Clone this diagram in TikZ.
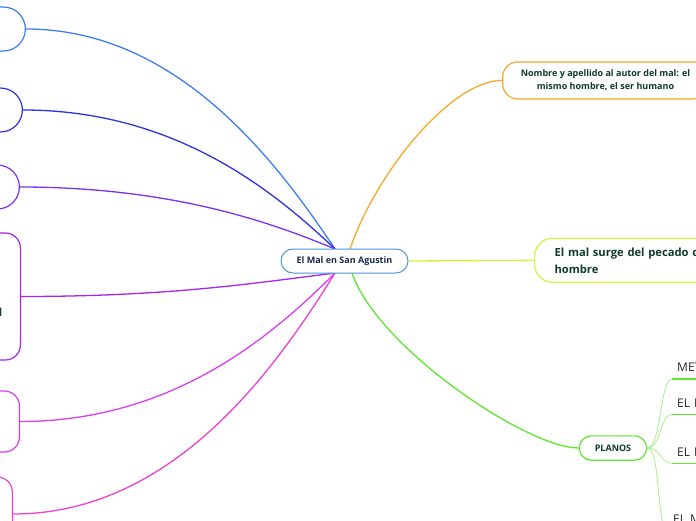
\documentclass[tikz,border=0pt]{standalone}
\usepackage{fontspec}
\setmainfont{Open Sans}
\usetikzlibrary{calc, backgrounds}

\definecolor{rootBlue}{HTML}{4A98D6}
\definecolor{navyText}{HTML}{1A2B4C}
\definecolor{greenText}{HTML}{0E3B2C}
\definecolor{brBlue}{HTML}{3D7EF5}
\definecolor{brIndigo}{HTML}{3030E8}
\definecolor{brViolet}{HTML}{7B2FF7}
\definecolor{brPurple}{HTML}{A524F2}
\definecolor{brMagenta}{HTML}{D93DF2}
\definecolor{brPink}{HTML}{F040D0}
\definecolor{brOrange}{HTML}{F7A72A}
\definecolor{brLime}{HTML}{D8F03C}
\definecolor{brGreen}{HTML}{5EE62E}
\definecolor{subGreen}{HTML}{A8F08A}

\begin{document}
\begin{tikzpicture}[
    x=1pt, y=-1pt,
    root/.style={rectangle, draw=rootBlue, fill=white, line width=1pt, rounded corners=12pt, minimum width=127pt, minimum height=24pt, inner sep=0pt, font=\fontsize{9}{10}\selectfont\bfseries, text=navyText},
    topic/.style={rectangle, fill=white, line width=1.2pt, inner sep=0pt, text=greenText},
    sidebox/.style={topic, anchor=east, minimum width=140pt},
    subitem/.style={anchor=south west, inner xsep=5pt, inner ysep=0pt, text depth=7pt, text width=40pt, align=left, font=\fontsize{12}{14}\selectfont, text=black!85},
    link/.style={line width=1.3pt},
    sublink/.style={line width=0.8pt, draw=subGreen},
    underline/.style={line width=1.5pt, draw=brGreen}
]
\useasboundingbox (0,0) rectangle (696,520);
\clip (0,0) rectangle (696,520);

% Central topic
\node[root] (root) at (344.5,261) {El Mal en San Agustin};
\coordinate (rootTop) at (335,249);
\coordinate (rootBot) at (335,273);

% Left topics (cut by the page edge)
\node[sidebox, draw=brBlue, rounded corners=22pt, minimum height=44pt] (tema1) at (26,29) {};
\node[sidebox, draw=brIndigo, rounded corners=22pt, minimum height=44pt] (tema2) at (23,110) {};
\node[sidebox, draw=brViolet, rounded corners=22pt, minimum height=44pt] (tema3) at (20,187) {};
\node[sidebox, draw=brPurple, rounded corners=15pt, minimum height=127pt] (tema4) at (21,296.5) {};
\node[anchor=base east, inner sep=0pt, text=greenText, font=\fontsize{11}{13}\selectfont\bfseries] (tema4txt) at (2.5,316) {l};
\node[sidebox, draw=brMagenta, rounded corners=15pt, minimum height=61pt] (tema5) at (20,421.5) {};
\node[sidebox, draw=brPink, rounded corners=15pt, minimum height=74pt] (tema6) at (13,514) {};

% Right topics
\node[topic, draw=brOrange, rounded corners=15pt, minimum width=205.6pt, minimum height=37pt, align=center, font=\fontsize{9}{13}\selectfont\bfseries] (autor) at (605.5,80.4) {Nombre y apellido al autor del mal: el\\mismo hombre, el ser humano};
\node[topic, draw=brLime, rounded corners=18pt, anchor=west, minimum height=44pt, inner xsep=20pt, text width=200pt, align=left, font=\fontsize{11.2}{17}\selectfont\bfseries] (pecado) at (534,260.3) {El mal surge del pecado c\\hombre};
\node[topic, draw=brGreen, rounded corners=12pt, minimum width=67.4pt, minimum height=24.3pt, font=\fontsize{9}{10}\selectfont\bfseries] (planos) at (613,448) {PLANOS};

% Planos sub items
\node[subitem] (plano1) at (672,379) {MET};
\node[subitem] (plano2) at (672,414.3) {EL M};
\node[subitem] (plano3) at (672,463.3) {EL M};
\node[subitem] (plano4) at (668,531) {EL M};

% Connectors
\begin{scope}[on background layer]
\draw[link, brBlue] (tema1.east) .. controls +(150,0) and +(-60,-90) .. (rootTop);
\draw[link, brIndigo] (tema2.east) .. controls +(153,0) and +(-60,-57) .. (rootTop);
\draw[link, brViolet] (tema3.east) .. controls +(155,0) and +(-60,-25) .. (rootTop);
\draw[link, brPurple] (tema4.east) .. controls +(150,0) and +(-80,10) .. (rootBot);
\draw[link, brMagenta] (tema5.east) .. controls +(155,0) and +(-60,60) .. (rootBot);
\draw[link, brPink] (tema6.east) .. controls +(158,0) and +(-62,100) .. (rootBot);
\draw[link, brOrange] (350,249) .. controls +(25,-74) and +(-52,0) .. (autor.west);
\draw[link, brLime] (root.east) -- (pecado.west);
\draw[link, brGreen] (352,273) .. controls +(25,74) and +(-52,0) .. (planos.west);
\foreach \s in {plano1, plano2, plano3, plano4}
  \draw[sublink] (planos.east) .. controls +(14,0) and +(-12,0) .. (\s.south west);
\end{scope}
\foreach \s in {plano1, plano2, plano3}
  \draw[underline] (\s.south west) -- (\s.south east);

\end{tikzpicture}
\end{document}
